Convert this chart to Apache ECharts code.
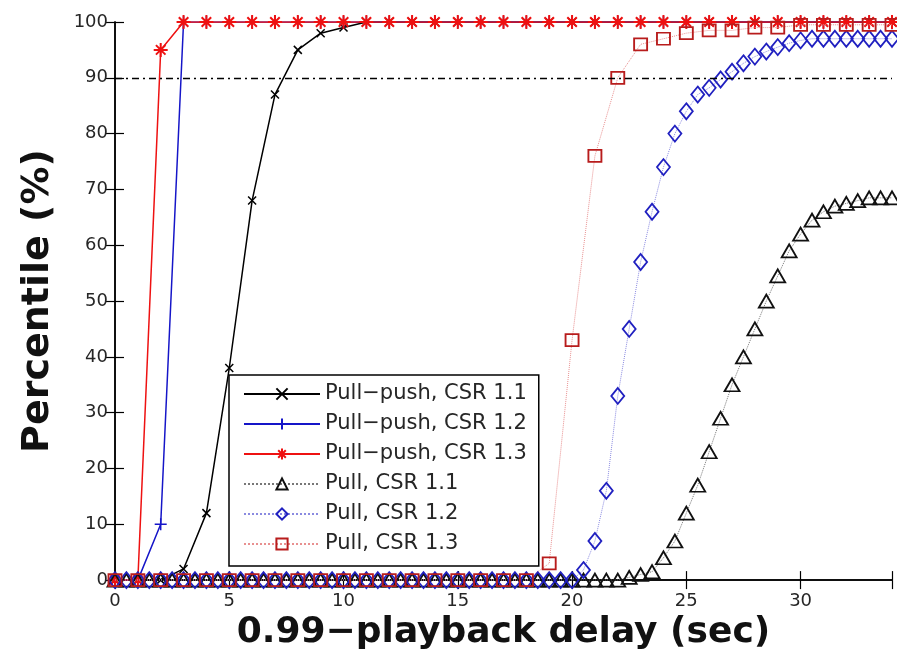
<!DOCTYPE html>
<html>
<head>
<meta charset="utf-8">
<script src="https://cdn.jsdelivr.net/npm/echarts@6/dist/echarts.min.js"></script>
<style>html,body{margin:0;padding:0;background:#fff;}#c{width:897px;height:656px;}</style>
</head>
<body>
<div id="c"></div>
<script>
// ---- data ----
const seriesNames = ['Pull\u2212push, CSR 1.1', 'Pull\u2212push, CSR 1.2', 'Pull\u2212push, CSR 1.3', 'Pull, CSR 1.1', 'Pull, CSR 1.2', 'Pull, CSR 1.3'];
const intX = [0,1,2,3,4,5,6,7,8,9,10,11,12,13,14,15,16,17,18,19,20,21,22,23,24,25,26,27,28,29,30,31,32,33,34];
const halfX = [0,0.5,1,1.5,2,2.5,3,3.5,4,4.5,5,5.5,6,6.5,7,7.5,8,8.5,9,9.5,10,10.5,11,11.5,12,12.5,13,13.5,14,14.5,15,15.5,16,16.5,17,17.5,18,18.5,19,19.5,20,20.5,21,21.5,22,22.5,23,23.5,24,24.5,25,25.5,26,26.5,27,27.5,28,28.5,29,29.5,30,30.5,31,31.5,32,32.5,33,33.5,34];
const pullPush11 = [0,0,0,2,12,38,68,87,95,98,99,100,100,100,100,100,100,100,100,100,100,100,100,100,100,100,100,100,100,100,100,100,100,100,100];
const pullPush12 = [0,0,10,100,100,100,100,100,100,100,100,100,100,100,100,100,100,100,100,100,100,100,100,100,100,100,100,100,100,100,100,100,100,100,100];
const pullPush13 = [0,0,95,100,100,100,100,100,100,100,100,100,100,100,100,100,100,100,100,100,100,100,100,100,100,100,100,100,100,100,100,100,100,100,100];
const pull11 = [0,0,0,0,0,0,0,0,0,0, 0,0,0,0,0,0,0,0,0,0, 0,0,0,0,0,0,0,0,0,0, 0,0,0,0,0,0,0,0,0,0, 0,0,0,0,0,
  0.5,1,1.5,4,7,12,17,23,29,35, 40,45,50,54.5,59,62,64.5,66,67,67.5, 68,68.5,68.5,68.5];
const pull12 = [0,0,0,0,0,0,0,0,0,0, 0,0,0,0,0,0,0,0,0,0, 0,0,0,0,0,0,0,0,0,0, 0,0,0,0,0,0,0,0,0,0, 0,
  1.8,7,16,33,45,57,66,74,80,84, 87,88.2,89.7,91.1,92.6,93.8,94.7,95.5,96.2,96.7, 97,97,97,97,97,97,97,97];
const pull13 = [0,0,0,0,0,0,0,0,0,0, 0,0,0,0,0,0,0,0,0,
  3,43,76,90,96,97,98,98.5,98.5,99,99,99.5,99.5,99.5,99.5,99.5];
const xTicks = [0,5,10,15,20,25,30];
const refLevel = 90;

const zip = (xs, ys) => ys.map((y, i) => [xs[i], y]);

const FONT = 'DejaVu Sans';
const P_X = 'path://M0,0L10,10M10,0L0,10';
const P_PLUS = 'path://M5,0L5,10M0,5L10,5';
const P_STAR = 'path://M5,0L5,10M0,5L10,5M1.6,1.6L8.4,8.4M8.4,1.6L1.6,8.4';

function solid(name, data, color, symbol, size, bw) {
  return {
    name, type: 'line', data, showAllSymbol: true, symbol, symbolSize: size,
    lineStyle: { color, width: 1.5, type: 'solid' },
    itemStyle: { color: 'none', borderColor: color, borderWidth: bw },
    emphasis: { disabled: true }, animation: false, z: 3
  };
}
function dotted(name, data, lineColor, markColor, symbol, size) {
  return {
    name, type: 'line', data, showAllSymbol: true, symbol, symbolSize: size,
    lineStyle: { color: lineColor, width: 1, type: 'dotted' },
    itemStyle: { color: 'rgba(255,255,255,0)', borderColor: markColor, borderWidth: 1.8 },
    emphasis: { disabled: true }, animation: false, z: 4
  };
}

const series = [
  solid(seriesNames[0], zip(intX, pullPush11), '#000000', P_X, 8, 1.5),
  solid(seriesNames[1], zip(intX, pullPush12), '#1515c8', P_PLUS, 12, 1.5),
  solid(seriesNames[2], zip(intX, pullPush13), '#ee1111', P_STAR, 14, 2),
  dotted(seriesNames[3], zip(halfX, pull11), '#777777', '#111111', 'triangle', [15, 13]),
  dotted(seriesNames[4], zip(halfX, pull12), '#8a8ae0', '#2020c0', 'diamond', [13, 16]),
  dotted(seriesNames[5], zip(intX, pull13), '#e89090', '#b81c1c', 'rect', [13, 12])
];
series[0].markLine = {
  silent: true, symbol: 'none', label: { show: false }, animation: false,
  lineStyle: { color: '#000', width: 1.3, type: [7, 4, 2, 4] },
  data: [{ yAxis: refLevel }]
};

const chart = echarts.init(document.getElementById('c'), null, { renderer: 'canvas' });
chart.setOption({
  animation: false,
  backgroundColor: '#fff',
  grid: { left: 115, right: 5, top: 22, bottom: 73 },
  legend: {
    data: seriesNames, orient: 'vertical', left: 229, top: 375,
    itemWidth: 76, itemHeight: 14, itemGap: 8,
    padding: [8, 12, 11, 14],
    borderColor: '#000', borderWidth: 1.5, backgroundColor: '#fff',
    textStyle: { fontFamily: FONT, fontSize: 21, lineHeight: 22, color: '#262626' },
    selectedMode: false
  },
  xAxis: [{
    type: 'value', min: 0, max: 34, interval: 5,
    name: '0.99\u2212playback delay (sec)', nameLocation: 'middle', nameGap: 29,
    nameTextStyle: { fontFamily: FONT, fontSize: 36, fontWeight: 'bold', color: '#111' },
    axisLine: { show: true, lineStyle: { color: '#000', width: 1.5 } },
    axisTick: { show: true, inside: true, length: 9, lineStyle: { color: '#000', width: 1.2 } },
    axisLabel: { fontFamily: FONT, fontSize: 18, color: '#262626', margin: 12,
      formatter: v => xTicks.indexOf(v) >= 0 ? String(v) : '' },
    splitLine: { show: false }
  }, {
    type: 'value', min: 0, max: 34, interval: 5, position: 'top',
    axisLine: { show: true, lineStyle: { color: '#000', width: 1.5 } },
    axisTick: { show: true, inside: true, length: 9, lineStyle: { color: '#000', width: 1.2 } },
    axisLabel: { show: false }, splitLine: { show: false }
  }],
  yAxis: [{
    type: 'value', min: 0, max: 100, interval: 10,
    name: 'Percentile (%)', nameLocation: 'middle', nameGap: 58,
    nameTextStyle: { fontFamily: FONT, fontSize: 38, fontWeight: 'bold', color: '#111' },
    axisLine: { show: true, lineStyle: { color: '#000', width: 1.5 } },
    axisTick: { show: true, inside: true, length: 9, lineStyle: { color: '#000', width: 1.2 } },
    axisLabel: { fontFamily: FONT, fontSize: 18, color: '#262626', margin: 7 },
    splitLine: { show: false }
  }, {
    type: 'value', min: 0, max: 100, interval: 10, position: 'right',
    axisLine: { show: true, lineStyle: { color: '#000', width: 1.5 } },
    axisTick: { show: true, inside: true, length: 9, lineStyle: { color: '#000', width: 1.2 } },
    axisLabel: { show: false }, splitLine: { show: false }
  }],
  series: series
});
</script>
</body>
</html>
